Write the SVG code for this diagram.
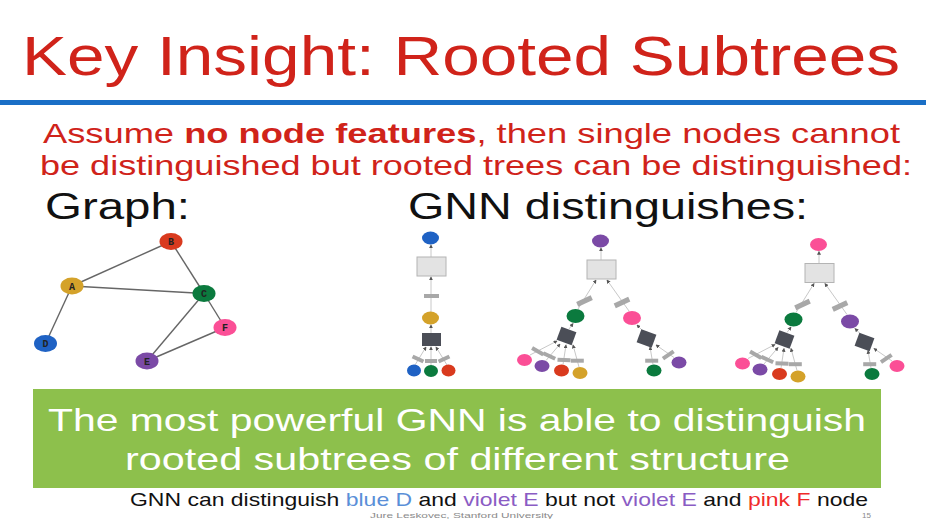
<svg xmlns="http://www.w3.org/2000/svg" width="926" height="519" viewBox="0 0 926 519">
<defs>
<style>
.sans{font-family:"Liberation Sans",Arial,sans-serif}
.red{fill:#d0231a}
.gedge{stroke:#666;stroke-width:1.4;fill:none}
.tedge{stroke:#c8c8c8;stroke-width:1;fill:none;marker-end:url(#ah)}
.bar{fill:#a8a8a8}
.agg{fill:#e3e3e3;stroke:#b4b4b4;stroke-width:1}
.sq{fill:#4b4e57}
.lbl{font-family:"Liberation Mono",monospace;font-weight:bold;font-size:10px;fill:#222;text-anchor:middle}
.cB{fill:#1f62c4}.cR{fill:#d93a1e}.cY{fill:#d4a22a}.cG{fill:#0b7a3e}.cP{fill:#fb4f96}.cV{fill:#7b4aa6}
</style>
<marker id="ah" viewBox="0 0 6 6" refX="5" refY="3" markerWidth="4" markerHeight="4" orient="auto"><path d="M0,0 L6,3 L0,6 z" fill="#555"/></marker>
</defs>
<rect width="926" height="519" fill="#ffffff"/>

<g id="title">
<text class="sans red" x="22" y="75" font-size="56" textLength="878" lengthAdjust="spacingAndGlyphs">Key Insight: Rooted Subtrees</text>
<rect x="0" y="100" width="926" height="5" fill="#1a6fc6"/>
</g>

<g id="intro">
<text class="sans red" x="43" y="143" font-size="28" textLength="857" lengthAdjust="spacingAndGlyphs">Assume <tspan font-weight="bold">no node features</tspan>, then single nodes cannot</text>
<text class="sans red" x="40" y="175" font-size="28" textLength="872" lengthAdjust="spacingAndGlyphs">be distinguished but rooted trees can be distinguished:</text>
<text class="sans" x="45" y="219" font-size="36" fill="#111" textLength="145" lengthAdjust="spacingAndGlyphs">Graph:</text>
<text class="sans" x="408" y="219" font-size="36" fill="#111" textLength="400" lengthAdjust="spacingAndGlyphs">GNN distinguishes:</text>
</g>

<g id="connectors">
<line class="gedge" x1="72" y1="286" x2="171" y2="241.5"/>
<line class="gedge" x1="72" y1="286" x2="204" y2="293.5"/>
<line class="gedge" x1="72" y1="286" x2="45.5" y2="343.5"/>
<line class="gedge" x1="171" y1="241.5" x2="204" y2="293.5"/>
<line class="gedge" x1="204" y1="293.5" x2="147" y2="361"/>
<line class="gedge" x1="204" y1="293.5" x2="225" y2="327.5"/>
<line class="gedge" x1="147" y1="361" x2="225" y2="327.5"/>
<line class="tedge" x1="431" y1="257" x2="431" y2="245"/>
<line class="tedge" x1="431" y1="312" x2="431" y2="277"/>
<line class="tedge" x1="431" y1="333" x2="431" y2="325"/>
<line class="tedge" x1="415" y1="365" x2="426" y2="347"/>
<line class="tedge" x1="431" y1="365" x2="431" y2="347"/>
<line class="tedge" x1="447" y1="365" x2="436" y2="347"/>
<rect class="bar" x="424" y="294" width="15" height="4"/>
<rect class="bar" x="-6" y="-2" width="12" height="4" transform="translate(418,359) rotate(25)"/>
<rect class="bar" x="-6" y="-2" width="12" height="4" transform="translate(431,361)"/>
<rect class="bar" x="-6" y="-2" width="12" height="4" transform="translate(444,359) rotate(-25)"/>
<g id="t2edges">
<line class="tedge" x1="601" y1="260" x2="601" y2="248"/>
<line class="tedge" x1="578" y1="309" x2="596" y2="280"/>
<line class="tedge" x1="629" y1="311" x2="607" y2="280"/>
<line class="tedge" x1="569" y1="329" x2="573" y2="323.5"/>
<line class="tedge" x1="643" y1="331" x2="637" y2="325"/>
<line class="tedge" x1="530" y1="355" x2="557" y2="341"/>
<line class="tedge" x1="546" y1="360.5" x2="560" y2="344"/>
<line class="tedge" x1="563" y1="364.5" x2="566" y2="345"/>
<line class="tedge" x1="579" y1="367" x2="573" y2="345"/>
<line class="tedge" x1="653" y1="364.5" x2="650" y2="347"/>
<line class="tedge" x1="674" y1="357.5" x2="656" y2="345"/>
<rect class="bar" x="-8" y="-2.5" width="16" height="5" transform="translate(584.5,301) rotate(-25)"/>
<rect class="bar" x="-8" y="-2.5" width="16" height="5" transform="translate(622,302.5) rotate(-25)"/>
<rect class="bar" x="-6.5" y="-2" width="13" height="4" transform="translate(537.7,351.3) rotate(30)"/>
<rect class="bar" x="-6.5" y="-2" width="13" height="4" transform="translate(549.3,356) rotate(25)"/>
<rect class="bar" x="-6.5" y="-2" width="13" height="4" transform="translate(564,360) rotate(3)"/>
<rect class="bar" x="-6.5" y="-2" width="13" height="4" transform="translate(577.3,360.7)"/>
<rect class="bar" x="-6.5" y="-2" width="13" height="4" transform="translate(651.7,360.7)"/>
<rect class="bar" x="-6.5" y="-2" width="13" height="4" transform="translate(668.3,355) rotate(-35)"/>
</g>
<use href="#t2edges" transform="translate(218,3.5)"/>
</g>

<g id="graph-nodes">
<g id="node-B"><ellipse class="cR" cx="171" cy="241.5" rx="11.5" ry="8.5"/><text class="lbl" x="171" y="245">B</text></g>
<g id="node-A"><ellipse class="cY" cx="72" cy="286" rx="11.5" ry="8.5"/><text class="lbl" x="72" y="289.5">A</text></g>
<g id="node-C"><ellipse class="cG" cx="204" cy="293.5" rx="11.5" ry="8.5"/><text class="lbl" x="204" y="297">C</text></g>
<g id="node-D"><ellipse class="cB" cx="45.5" cy="343.5" rx="11.5" ry="8.5"/><text class="lbl" x="45.5" y="347">D</text></g>
<g id="node-F"><ellipse class="cP" cx="225" cy="327.5" rx="11.5" ry="8.5"/><text class="lbl" x="225" y="331">F</text></g>
<g id="node-E"><ellipse class="cV" cx="147" cy="361" rx="11.5" ry="8.5"/><text class="lbl" x="147" y="364.5">E</text></g>
</g>

<g id="tree-D">
<ellipse class="cB" cx="430.5" cy="238" rx="8.5" ry="6.5"/>
<rect class="agg" x="417" y="257" width="29" height="19"/>
<ellipse class="cY" cx="430.5" cy="318" rx="8.5" ry="6.5"/>
<rect class="sq" x="422" y="333" width="19" height="13"/>
<ellipse class="cB" cx="414" cy="370.5" rx="7" ry="6"/>
<ellipse class="cG" cx="431" cy="371" rx="7" ry="6"/>
<ellipse class="cR" cx="448.5" cy="370.5" rx="7" ry="6"/>
</g>

<g id="tree-E">
<ellipse class="cV" cx="600.5" cy="241" rx="8.5" ry="6.5"/>
<rect class="agg" x="587" y="260" width="29" height="19"/>
<ellipse class="cG" cx="575.5" cy="316" rx="9" ry="7"/>
<ellipse class="cP" cx="632" cy="318" rx="9" ry="7"/>
<rect class="sq" x="-8" y="-7" width="16" height="14" transform="translate(566.5,336) rotate(20)"/>
<rect class="sq" x="-8" y="-7" width="16" height="14" transform="translate(646.5,338.5) rotate(20)"/>
<ellipse class="cP" cx="524.5" cy="360" rx="7.5" ry="6"/>
<ellipse class="cV" cx="542" cy="366" rx="7.5" ry="6"/>
<ellipse class="cR" cx="561.5" cy="370.5" rx="7.5" ry="6"/>
<ellipse class="cY" cx="580" cy="373" rx="7.5" ry="6"/>
<ellipse class="cG" cx="654" cy="370.5" rx="7.5" ry="6"/>
<ellipse class="cV" cx="679" cy="362.5" rx="7.5" ry="6"/>
</g>

<g id="tree-F" transform="translate(218,3.5)">
<ellipse class="cP" cx="600.5" cy="241" rx="8.5" ry="6.5"/>
<rect class="agg" x="587" y="260" width="29" height="19"/>
<ellipse class="cG" cx="575.5" cy="316" rx="9" ry="7"/>
<ellipse class="cV" cx="632" cy="318" rx="9" ry="7"/>
<rect class="sq" x="-8" y="-7" width="16" height="14" transform="translate(566.5,336) rotate(20)"/>
<rect class="sq" x="-8" y="-7" width="16" height="14" transform="translate(646.5,338.5) rotate(20)"/>
<ellipse class="cP" cx="524.5" cy="360" rx="7.5" ry="6"/>
<ellipse class="cV" cx="542" cy="366" rx="7.5" ry="6"/>
<ellipse class="cR" cx="561.5" cy="370.5" rx="7.5" ry="6"/>
<ellipse class="cY" cx="580" cy="373" rx="7.5" ry="6"/>
<ellipse class="cG" cx="654" cy="370.5" rx="7.5" ry="6"/>
<ellipse class="cP" cx="679" cy="362.5" rx="7.5" ry="6"/>
</g>

<g id="takeaway">
<rect x="33" y="389" width="848" height="99" fill="#8dc04c"/>
<text class="sans" x="48" y="431" font-size="32" fill="#ffffff" textLength="818" lengthAdjust="spacingAndGlyphs">The most powerful GNN is able to distinguish</text>
<text class="sans" x="125" y="470" font-size="32" fill="#ffffff" textLength="665" lengthAdjust="spacingAndGlyphs">rooted subtrees of different structure</text>
</g>

<g id="caption">
<text class="sans" x="130" y="506" font-size="19" fill="#111" textLength="738" lengthAdjust="spacingAndGlyphs">GNN can distinguish <tspan fill="#5a8fd8">blue D</tspan> and <tspan fill="#8a5cc4">violet E</tspan> but not <tspan fill="#8a5cc4">violet E</tspan> and <tspan fill="#f02a2a">pink F</tspan> node</text>
<text class="sans" x="370" y="518" font-size="8" fill="#8a8a8a" textLength="183" lengthAdjust="spacingAndGlyphs">Jure Leskovec, Stanford University</text>
<text class="sans" x="862" y="518" font-size="8" fill="#8a8a8a">15</text>
</g>
</svg>
